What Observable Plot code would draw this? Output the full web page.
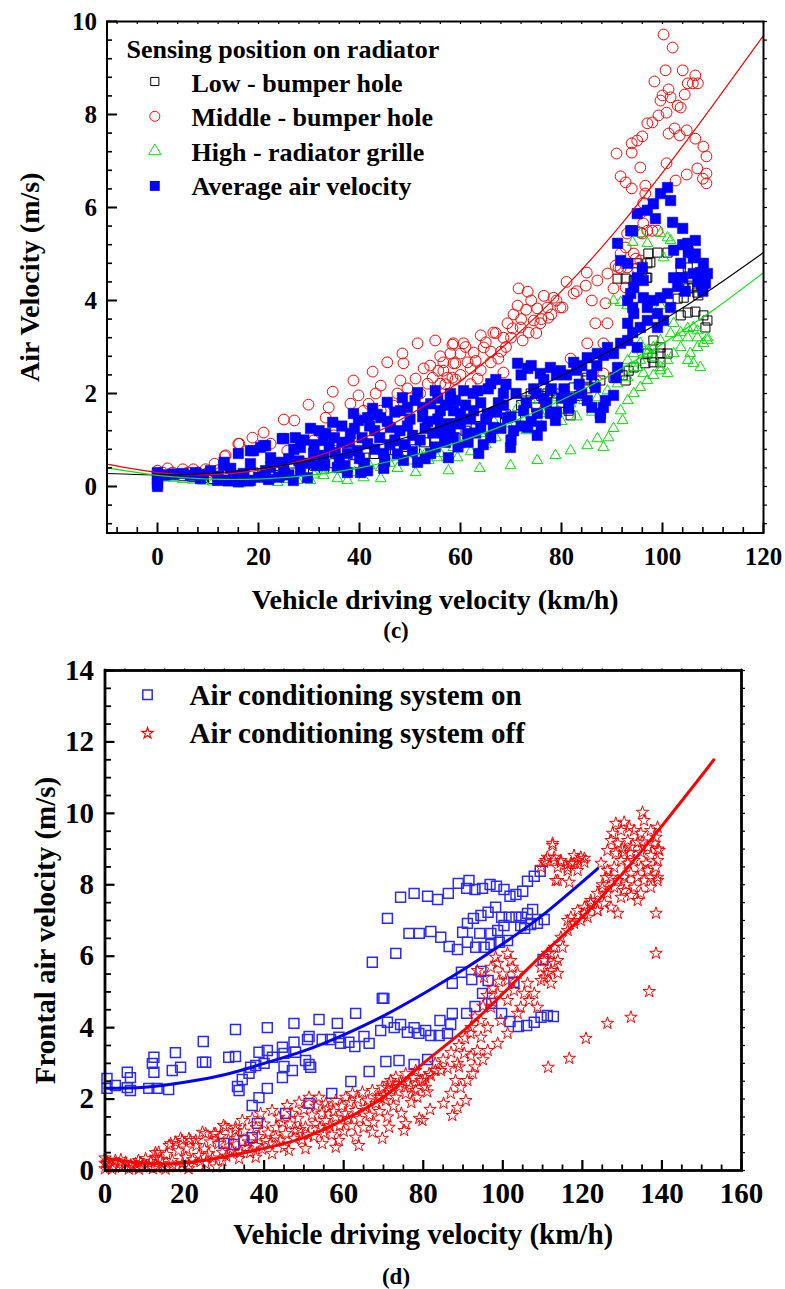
<!DOCTYPE html>
<html>
<head>
<meta charset="utf-8">
<script src="https://cdn.jsdelivr.net/npm/d3@7"></script>
<script src="https://cdn.jsdelivr.net/npm/@observablehq/plot@0.6"></script>
<style>
  html, body { margin: 0; padding: 0; background: #fff; }
  #wrap { position: relative; width: 785px; height: 1289px; background: #fff; overflow: hidden; }
  .panel { position: absolute; left: 0; }
  .tag { position: absolute; left: 0; width: 792px; text-align: center; font-family: 'Liberation Serif', 'Times New Roman', serif; font-weight: bold; font-size: 23px; line-height: 23px; color: #000; }
</style>
</head>
<body>
<div id="wrap">
  <div id="top" class="panel" style="top:0px"></div>
  <div id="bottom" class="panel" style="top:640px"></div>
  <div class="tag" style="top:619px">(c)</div>
  <div class="tag" style="top:1265px">(d)</div>
</div>
<script>
// ---------------- Panel (c) data ----------------
const legendTitleC = "Sensing position on radiator";
const seriesNamesC = ["Low - bumper hole", "Middle - bumper hole", "High - radiator grille", "Average air velocity"];
const xTitleC = "Vehicle driving velocity (km/h)";
const yTitleC = "Air Velocity (m/s)";
const xTickLabelsC = [0, 20, 40, 60, 80, 100, 120];
const yTickLabelsC = [0, 2, 4, 6, 8, 10];

const lowPts = [[0,0.28],[0,0.18],[1,0.22],[3,0.24],[5,0.22],[7,0.2],[9,0.18],[11,0.16],[13,0.14],[15,0.15],[17,0.17],[19,0.3],[21,0.22],[23,0.25],[25,0.4],[27,0.3],[29,0.35],[31,0.45],[33,0.38],[35,0.5],[37,0.55],[39,0.48],[41,0.62],[43,0.7],[45,0.6],[47,0.78],[49,0.85],[51,0.8],[53,0.95],[55,1.0],[57,1.1],[59,1.05],[61,1.2],[63,1.3],[65,1.25],[67,1.45],[69,1.55],[71,1.5],[72,1.75],[73,1.85],[73.9,2.0],[75,1.7],[76,1.95],[77.2,2.0],[77.2,1.89],[77.8,2.06],[79.2,2.0],[80,1.8],[81.4,1.63],[81.8,1.53],[82.4,2.13],[83.5,1.95],[84.8,2.28],[85.1,2.11],[85.1,2.34],[86.5,2.2],[87.7,2.28],[90.3,2.34],[92.1,2.39],[92.7,2.28],[93.3,2.49],[94.3,2.56],[96.6,2.65],[97,2.86],[98,2.77],[98.2,3.14],[98.2,2.67],[99.6,2.99],[99.6,2.86],[99.6,2.67],[101,2.86],[91.1,4.47],[92.7,4.47],[94.3,4.43],[94.7,4.43],[95,4.8],[96,4.65],[96.8,4.49],[97,4.49],[97,4.8],[97.6,4.82],[97.2,5.01],[99,5.03],[101,5.03],[103.6,4.69],[105,4.71],[106.1,4.28],[105.1,4.26],[105.9,4.32],[104.2,4.06],[103,4.04],[106.9,4.17],[107.1,4.11],[105,3.74],[106.5,3.76],[108.1,3.68],[108.9,3.57],[108.5,3.42],[103.6,3.68]];

const midPts = [[0,0.34],[0,0.28],[1,0.3],[2,0.39],[3,0.3],[5,0.37],[6,0.3],[7.1,0.37],[8,0.3],[9.5,0.37],[10,0.3],[11.3,0.49],[12,0.35],[13.3,0.65],[13.5,0.67],[16,0.92],[16.2,0.92],[18.8,1.05],[21,1.16],[22.4,0.92],[25,1.44],[25.7,0.77],[27.1,1.42],[29.9,1.76],[30.9,0.99],[33.3,1.48],[33.9,1.7],[34.7,2.04],[34.9,1.1],[34.9,0.77],[38.2,1.78],[38.8,2.28],[39.8,1.96],[40.8,1.63],[41.8,1.78],[41.8,1.48],[42.6,2.47],[43.2,2.0],[44.2,2.17],[44.2,1.63],[45.5,2.67],[46.7,1.74],[47.5,2.0],[48.1,2.28],[48.5,2.86],[48.7,2.65],[49.5,2.11],[50,1.9],[51.1,2.32],[51.5,3.08],[52,2.0],[52.7,2.54],[53.5,2.21],[54,2.6],[54.5,2.34],[55,3.14],[55.6,2.49],[56,2.21],[56,2.8],[56.6,2.67],[56.6,2.49],[57,2.2],[57.4,2.34],[58,2.86],[58.4,3.05],[58.4,2.34],[58.6,3.08],[58.6,2.65],[59,2.65],[59,2.3],[60,2.86],[60,2.4],[60.6,3.08],[61,3.0],[61.4,2.67],[62,2.54],[62,2.2],[62.6,2.88],[63,2.7],[63.4,2.32],[64,3.25],[64,2.5],[64.6,2.99],[65,3.1],[66,2.67],[66,2.9],[66.5,3.31],[67,3.3],[67.5,2.75],[68,2.9],[68.5,3.2],[68.5,2.45],[69,3.0],[69.3,3.51],[70,3.2],[70.3,3.4],[70.5,3.7],[71.3,3.89],[71.5,4.26],[71.9,3.42],[72,3.6],[72.3,3.14],[73,3.8],[73.3,4.19],[73.5,3.31],[74,4.0],[74.5,3.57],[74.9,1.78],[75,3.3],[75.2,3.83],[75.8,3.51],[76,3.6],[76.5,4.1],[77.2,3.85],[77.4,3.63],[78,3.7],[78.4,4.06],[79,4.0],[79.8,3.85],[80.2,3.85],[81,4.4],[81.8,2.75],[82.4,4.15],[83,4.2],[84.8,4.32],[85,4.6],[85.1,3.08],[86,4.0],[86.7,3.51],[87.1,4.43],[88.3,3.08],[88.3,2.43],[88.7,3.94],[89.1,4.58],[89.1,3.51],[90.3,4.26],[90.7,4.75],[90.9,7.16],[91.3,4.71],[91.7,6.67],[91.7,5.01],[91.7,4.69],[92.7,6.54],[92.7,5.14],[92.7,4.28],[93,5.44],[93,4.71],[93.9,7.38],[93.9,7.18],[93.9,6.41],[94.3,5.01],[94.7,4.9],[95,7.44],[95,4.69],[95.6,6.86],[95.6,5.87],[95.6,5.46],[95.6,4.86],[96,7.53],[96,5.44],[96.2,6.1],[96.2,5.66],[96.6,6.47],[96.6,6.3],[97,7.81],[97,5.5],[98,7.83],[98,5.5],[98.4,8.71],[99,5.5],[99.2,7.98],[99.6,8.3],[100,8.41],[100.2,9.72],[100.6,8.95],[100.8,8.04],[100.8,6.95],[101.2,8.54],[101.2,7.59],[101.6,8.37],[102,9.44],[102.4,7.7],[102.6,6.58],[103,8.19],[103.4,7.55],[103.6,8.15],[104,8.95],[104.4,8.43],[104.8,7.66],[104.8,6.71],[105,8.67],[106,8.67],[106.5,8.84],[106.5,7.48],[106.9,6.84],[107,8.67],[108,6.62],[108.1,7.31],[108.7,7.1],[108.7,6.73],[108.7,6.52]];

const highPts = [[0,0.12],[0,0.05],[1,0.2],[3,0.18],[5,0.15],[7,0.14],[9,0.12],[11,0.1],[12,0.15],[13.9,0.09],[15,0.12],[16.4,0.06],[18,0.1],[20.4,0.19],[22,0.12],[23.8,0.09],[25,0.28],[26,0.15],[27.7,0.13],[28.9,0.49],[30.3,0.13],[31,0.25],[32.7,0.34],[32.9,0.24],[33.3,0.67],[35.6,0.17],[36,0.4],[37.6,0.39],[37.6,0.13],[39,0.3],[40.8,0.19],[42,0.45],[44.2,0.41],[44.2,0.17],[46,0.5],[47.5,0.39],[48.1,0.67],[50,0.55],[51.1,0.3],[51.5,0.77],[53,0.7],[53.7,0.56],[55.4,0.62],[56,0.71],[57.6,0.34],[58.6,0.84],[59.4,0.62],[60,0.9],[61.4,0.99],[62,0.75],[63.8,0.39],[64,1.14],[65,0.9],[66.5,1.42],[67,1.05],[68.5,1.63],[69.3,1.35],[69.9,0.45],[70,1.1],[71.3,1.7],[72.5,1.42],[73,1.2],[73.9,1.85],[75.2,0.56],[75.8,1.57],[76,1.3],[77.2,1.63],[78.8,0.67],[79.2,1.63],[79.2,1.91],[80,1.4],[81.8,0.77],[81.8,1.78],[83,1.5],[84.4,1.85],[85.1,0.88],[86,1.6],[87.1,1.03],[87.1,1.91],[88.3,0.84],[89.1,2.06],[89.3,1.05],[90.3,1.25],[90.3,4.0],[91.1,2.21],[91.7,1.63],[91.7,3.96],[92.1,1.42],[93,3.89],[93.1,1.85],[93.1,2.34],[93.1,2.71],[94.1,5.25],[94.3,2.0],[94.3,2.56],[94.3,2.86],[95,2.56],[95.6,2.13],[95.6,2.71],[95.6,3.08],[95.6,5.44],[96.2,2.43],[97,2.28],[97,2.86],[97,2.92],[97,5.23],[98.2,2.39],[98.2,2.99],[98.2,2.77],[99.6,2.49],[99.6,3.14],[99.6,2.56],[99.6,3.89],[99.6,5.44],[100.2,4.92],[101,2.71],[101,2.43],[101,5.35],[101.6,3.29],[101.6,5.29],[102.2,2.86],[102.2,3.51],[103,3.2],[103.6,2.99],[103.6,3.31],[105,2.71],[105,3.2],[105,3.4],[105.5,2.86],[106.1,2.65],[106.1,3.42],[106.9,3.2],[106.9,3.35],[106.9,2.99],[107.5,2.56],[108.1,3.08],[108.9,3.14],[108.9,3.2]];

const avgPts = [[0,0.3],[0,0.22],[0,0.14],[0,0.06],[0,0.0],[1.5,0.25],[3,0.27],[5,0.28],[6.5,0.24],[7.5,0.3],[8.5,0.17],[9,0.26],[10.5,0.34],[11.9,0.13],[12,0.22],[13.1,0.45],[13.2,0.52],[14,0.12],[14.5,0.39],[15,0.24],[16,0.71],[16,0.1],[17,0.28],[18,0.12],[18.4,0.77],[18.4,0.49],[18.4,0.13],[19,0.77],[20,0.2],[20.4,0.84],[21,0.88],[21.4,0.88],[21.4,0.34],[22,0.15],[22.4,0.62],[22.4,0.41],[24,0.2],[24.4,0.52],[24.7,1.03],[25,1.03],[25,0.34],[26,0.25],[26,0.6],[26.9,0.13],[27,0.8],[27.3,1.05],[28,0.55],[28.3,0.84],[28.3,0.34],[29,1.0],[29.7,0.19],[30,0.5],[30.3,1.25],[30.9,0.71],[31,0.9],[31.5,0.45],[32,1.2],[32.9,0.99],[32.9,0.67],[33,0.45],[33.3,1.14],[34,0.85],[34.7,1.38],[35,1.05],[35.2,0.73],[35.6,0.41],[36,0.6],[36.5,0.95],[36.5,1.3],[37,0.45],[37.6,0.71],[37.6,0.3],[38,0.95],[38.2,1.14],[38.8,1.57],[39,1.25],[39.6,0.77],[39.8,1.42],[40,0.6],[40.2,0.3],[40.5,1.05],[41,0.5],[41.6,1.48],[41.6,0.92],[41.6,0.34],[42,1.3],[42.6,1.68],[43,1.2],[43,0.8],[43.5,1.55],[44,1.05],[44.2,1.48],[44.8,0.71],[44.8,0.39],[45,0.55],[45.5,1.81],[45.5,1.4],[46,0.9],[46.1,1.27],[47,1.0],[47,1.6],[47.5,0.7],[48,1.2],[48.1,1.63],[48.5,1.91],[48.7,0.56],[49,0.9],[49.5,1.3],[49.5,1.7],[50,1.45],[50.5,1.1],[50.5,0.75],[51,1.85],[51.5,2.02],[51.5,0.52],[52,1.0],[52.5,1.5],[52.5,1.7],[53,1.25],[53,0.6],[53.5,1.4],[54.1,1.78],[54.1,0.71],[54.5,1.15],[55,2.06],[55,0.85],[55.5,1.45],[55.5,1.9],[56,1.63],[56,1.3],[56.5,1.15],[57,0.95],[57,1.75],[57.4,1.35],[57.6,0.62],[58,2.0],[58,1.91],[58,1.2],[58.6,1.63],[58.6,1.05],[59,1.85],[59.4,1.35],[59.5,0.85],[60,1.57],[60,1.35],[60.6,2.06],[61,1.75],[61.4,1.14],[61.5,0.95],[62,1.45],[62.5,2.0],[62.6,1.63],[63,1.15],[63.4,2.06],[63.6,0.71],[64,1.27],[64,1.8],[64.5,0.9],[65,1.45],[65.3,1.57],[65.5,2.1],[66,2.21],[66,1.05],[66.5,1.27],[67,1.6],[67,2.3],[67.5,1.8],[68,1.25],[68.5,2.0],[68.5,1.75],[69,2.2],[69.3,1.48],[69.9,0.84],[70,1.5],[70,1.0],[70.5,1.2],[71,2.0],[71.3,2.65],[72,1.3],[72,2.4],[72.5,1.63],[73,1.8],[73.3,2.54],[73.3,1.27],[74,1.4],[74,2.6],[74.5,2.1],[75,2.0],[75.2,1.57],[75.2,1.1],[75.8,2.43],[76,1.3],[76.5,1.9],[76.5,2.3],[77,1.8],[77.8,2.56],[77.8,1.57],[78,2.1],[78.8,1.42],[79,1.6],[79,2.4],[79.8,2.49],[80,1.9],[80.5,2.1],[81,2.4],[81.4,1.68],[82,1.9],[82.4,2.67],[83,2.5],[83.5,2.2],[84,2.0],[84,2.6],[85.1,2.77],[85.1,1.85],[86,2.4],[86,1.7],[86.7,2.13],[87,2.6],[87.1,2.86],[87.7,1.57],[87.7,1.48],[88.3,1.7],[88.3,2.82],[88.7,1.85],[89.1,2.99],[90.3,1.96],[90.3,2.86],[90.7,2.34],[91.1,2.56],[91.1,5.23],[91.7,3.08],[91.7,4.86],[93.1,3.14],[93.1,3.51],[93.1,4.0],[93.1,4.8],[93.7,4.15],[93.7,5.5],[94.1,3.31],[94.1,3.85],[94.1,5.5],[94.3,3.72],[94.3,4.28],[95,4.49],[95,5.87],[95,2.99],[95.6,3.42],[96,4.71],[96.2,4.43],[96.2,4.06],[97,3.85],[97,3.57],[97,5.94],[98.2,4.0],[98.2,6.08],[98.6,5.76],[99,3.72],[99,3.42],[99.6,4.06],[99.6,6.3],[100.2,3.57],[101,4.15],[101,6.43],[101.6,3.85],[101.6,6.15],[102,5.68],[102.2,4.49],[102.2,5.08],[103,4.3],[103.6,4.8],[104,4.49],[104,5.2],[104,5.55],[104.5,4.2],[105,5.23],[105.1,5.03],[106.1,4.92],[106.1,4.58],[106.5,5.29],[106.5,5.0],[107,4.4],[107.5,4.6],[108,4.2],[108.1,4.8],[108.5,4.37],[108.9,4.58]];

const fitXC = [-10, 0, 10, 20, 30, 40, 50, 60, 70, 80, 90, 100, 110, 120];
const lowFitY = [0.28, 0.25, 0.28, 0.38, 0.55, 0.78, 1.08, 1.45, 1.88, 2.38, 2.94, 3.57, 4.27, 5.03];
const midFitY = [0.48, 0.3, 0.25, 0.35, 0.6, 1.0, 1.55, 2.27, 3.15, 4.2, 5.4, 6.75, 8.2, 9.7];
const highFitY = [0.4, 0.24, 0.16, 0.16, 0.24, 0.4, 0.65, 0.97, 1.38, 1.86, 2.42, 3.07, 3.79, 4.6];

// ---------------- Panel (d) data ----------------
const seriesNamesD = ["Air conditioning system on", "Air conditioning system off"];
const xTitleD = "Vehicle driving velocity (km/h)";
const yTitleD = "Frontal air velocity (m/s)";
const xTickLabelsD = [0, 20, 40, 60, 80, 100, 120, 140, 160];
const yTickLabelsD = [0, 2, 4, 6, 8, 10, 12, 14];

const onPts = [[0.5,2.58],[0.5,2.3],[2.6,2.38],[5.6,2.75],[6.4,2.6],[5.6,2.32],[6.4,2.24],[11,2.3],[13.1,2.3],[16,2.27],[11.9,3.0],[12.3,3.17],[12.3,2.75],[16.9,2.8],[17.7,3.3],[19,2.89],[24.5,3.03],[25.3,3.03],[24.7,3.61],[31.1,3.17],[32.8,3.19],[32.8,3.95],[33.3,2.35],[33.7,2.24],[34.5,2.55],[36.2,2.72],[36.6,2.89],[37,1.82],[38.7,2.04],[40.8,2.3],[37.9,2.94],[40,3.0],[38.7,3.31],[40.8,3.36],[40.8,4.0],[42.1,3.17],[44.6,3.45],[45,3.28],[45,2.91],[44.6,2.6],[47.1,2.8],[47.5,3.59],[47.5,4.12],[47.9,3.31],[50.4,3.08],[51.3,2.97],[51.7,2.89],[50.9,3.67],[51.3,3.75],[53.8,4.23],[54.6,3.67],[56.7,3.67],[58.8,3.73],[59.2,3.56],[61.3,3.59],[62.8,3.47],[58.4,4.12],[63,4.4],[65.1,3.75],[66.4,3.56],[61.8,2.49],[66.4,2.77],[67.2,5.83],[69.3,3.92],[71,4.15],[72.7,4.0],[74.3,4.09],[76,3.87],[77.7,4.0],[78.9,3.84],[80.6,3.92],[81.9,3.78],[69.7,4.82],[71,7.06],[73.1,6.08],[74.3,7.65],[77.7,7.76],[81.1,7.68],[83.6,7.59],[76.4,6.64],[79,6.64],[81.9,6.69],[70.6,3.05],[73.9,3.08],[77.7,2.97],[81.1,3.11],[45.4,1.6],[38.3,1.32],[37,0.92],[34.9,0.84],[32.4,0.73],[29.9,0.76],[51.3,1.88],[57,2.16],[86.3,7.76],[88.8,8.04],[91.5,8.12],[90.9,7.9],[93,7.87],[94.9,7.9],[96.8,8.01],[98.4,7.96],[100.3,7.87],[101.8,7.68],[103.3,7.73],[105,7.82],[106.2,8.1],[107.9,8.24],[109.4,8.38],[84.4,6.53],[86.5,6.27],[88.6,6.19],[89.9,6.67],[91.1,6.92],[92.6,7.06],[94.5,7.14],[96.3,7.23],[98.2,7.37],[99.7,7.09],[101.6,7.09],[103.3,7.09],[104.7,7.09],[106.2,7.2],[107.5,7.31],[110.4,7.03],[108.7,6.92],[107,6.89],[105.5,6.78],[104.5,6.86],[100.3,6.86],[98.7,6.72],[97,6.64],[94.2,6.64],[93.2,6.25],[95.3,6.25],[97,6.33],[99.1,6.39],[101.2,6.44],[91.1,6.39],[89.6,5.55],[87.3,5.24],[92.2,5.35],[94.5,5.57],[96.3,5.32],[94.9,4.96],[97.2,4.68],[102.8,5.27],[110.1,5.91],[70.1,4.82],[84,3.78],[86.1,3.84],[86.9,4.09],[84.2,4.2],[87.3,4.4],[90.9,4.4],[93,4.59],[99.7,4.4],[101.8,4.17],[103.9,4.03],[106,4.06],[107.9,4.15],[109.6,4.29],[111.2,4.34],[112.7,4.31]];

const offPts = [[0,0.35],[0,0.2],[0,0.05],[0.5,0.23],[1,0.14],[1.8,0.04],[2,0.1],[2.6,0.28],[3.5,0.18],[4,0.3],[4.3,0.09],[5.2,0.23],[6,0.04],[6.5,0.15],[7,0.08],[7.7,0.19],[8.4,0.28],[8.5,0.04],[9,0.22],[9.5,0.1],[10.2,0.33],[11,0.14],[11.5,0.25],[12,0.05],[12.7,0.37],[12.7,0.5],[13,0.08],[13.5,0.51],[14,0.3],[14.4,0.19],[15.2,0.04],[15.5,0.45],[16.1,0.7],[16.5,0.75],[16.9,0.28],[17,0.12],[17.7,0.79],[18,0.1],[18.5,0.55],[19,0.9],[19.4,0.84],[19.5,0.2],[20.3,0.37],[20.5,0.6],[21,0.05],[21.1,0.89],[21.1,0.14],[21.5,0.84],[22,0.3],[22.8,0.84],[23,0.7],[23.6,0.42],[24,0.25],[24.5,1.07],[25,0.6],[25.3,1.03],[25.3,0.19],[26.1,0.47],[26.5,0.8],[27,0.35],[27.4,1.03],[27.8,1.03],[28,0.1],[28.5,0.75],[29,0.95],[29.5,0.51],[29.5,0.28],[29.8,1.26],[30.3,1.21],[30.5,0.4],[31,0.85],[31.5,0.6],[32,0.56],[32.8,1.21],[32.8,1.12],[33,0.9],[33.7,0.33],[34,0.5],[34.5,1.4],[35,1.1],[35.3,0.65],[36,0.8],[36.5,0.5],[37,1.45],[37.9,0.7],[37.9,0.37],[38,1.2],[38.5,0.95],[39.1,1.59],[39.5,0.6],[40,1.3],[40.4,0.84],[41,1.05],[41.5,0.75],[42,1.68],[42,0.47],[42.9,0.93],[43,1.2],[43.7,1.49],[44,0.85],[44.5,1.35],[45,0.65],[45.4,1.03],[45.8,1.82],[46.2,0.56],[46.5,1.3],[47,1.6],[47.5,0.9],[47.9,1.12],[48.5,1.45],[48.8,1.91],[49,1.15],[49.5,0.85],[50,1.7],[50.4,1.21],[50.4,0.61],[51,1.0],[51.3,2.05],[52,1.55],[52.5,0.95],[52.9,1.31],[53,1.8],[53.8,2.05],[54,1.2],[54.5,1.6],[54.6,0.75],[55,1.05],[55.5,1.87],[55.5,1.4],[56,1.75],[56.5,1.25],[57,1.0],[57.5,1.65],[58,1.96],[58,1.49],[58,0.65],[58.8,0.84],[59,1.25],[59.5,1.8],[60,1.1],[60.5,2.05],[60.5,1.59],[61,1.45],[61.5,1.9],[62,1.25],[62.2,2.15],[63,1.68],[63,0.93],[63.5,2.0],[63.8,0.7],[64,1.45],[64.7,2.19],[65,1.2],[65.5,1.77],[66,1.95],[66.5,1.55],[67.2,2.24],[67.2,1.07],[67.5,1.35],[68.1,1.87],[68.5,2.05],[69,1.65],[69.3,2.04],[69.7,2.33],[69.7,0.9],[70,2.1],[70.6,1.96],[71,1.5],[71,2.32],[71.4,2.43],[71.4,1.21],[71.8,2.52],[72,2.25],[72.5,1.8],[73.1,2.61],[73.1,2.05],[74,2.35],[74.3,2.44],[74.5,1.6],[75.2,1.12],[75.6,2.71],[75.6,2.15],[75.6,1.31],[76.5,2.45],[76.9,2.32],[77,1.9],[77.5,2.6],[78.1,2.8],[78.1,2.24],[78.5,2.05],[79,1.46],[79.4,2.52],[79.8,2.52],[79.8,1.4],[80.5,2.6],[80.6,2.33],[81,2.2],[81.5,2.71],[81.7,1.71],[81.9,2.66],[83,3.0],[83.1,2.8],[84.4,2.8],[85,3.1],[85.1,1.88],[86.1,2.86],[86.9,2.16],[87,3.3],[87.3,1.54],[88.1,2.52],[88.6,3.0],[88.6,1.76],[89,3.5],[89,2.9],[89.4,2.32],[90.3,3.28],[90.5,3.7],[90.7,1.96],[91.1,2.52],[91.9,3.84],[92,4.0],[92,3.2],[92.4,2.72],[93,4.3],[93,2.9],[93.6,3.36],[93.6,5.6],[94.5,3.73],[94.5,4.2],[95,4.6],[95,3.1],[95.3,5.41],[96,4.9],[96.2,3.36],[96.2,4.0],[97,4.57],[97,5.69],[97.5,5.1],[98.2,5.97],[98.7,3.56],[98.7,4.96],[98.7,5.8],[99,5.3],[99.5,4.2],[100,5.5],[101.2,3.84],[101.2,4.76],[101.2,5.32],[101.2,6.08],[102,5.88],[102.4,5.69],[102.8,5.04],[103.7,4.4],[103.7,5.52],[104.5,4.57],[105.4,4.96],[106.2,5.24],[106.6,4.76],[107.9,4.96],[108.7,4.57],[109.6,5.32],[109.6,5.69],[110.4,5.41],[110.4,5.88],[111.2,6.08],[111.2,5.52],[112.1,5.6],[112.1,6.08],[112.1,5.24],[112.9,6.25],[112.9,5.8],[113.8,5.88],[113.8,5.52],[114.6,6.53],[115,6.25],[116.3,6.72],[116.3,7.0],[117.1,7.09],[117.9,6.92],[118.8,7.28],[119.6,7.0],[120.5,7.37],[120.5,7.2],[121.3,7.09],[122.1,7.56],[122.1,7.48],[123.8,7.76],[123.8,7.28],[109.6,8.49],[110.4,8.63],[110.8,8.68],[111.2,8.77],[112.5,9.1],[112.5,9.16],[112.9,8.68],[112.9,8.77],[113.3,8.12],[113.8,8.49],[113.8,8.12],[114.6,8.68],[114.6,8.63],[116.3,8.49],[116.3,8.4],[116.7,8.07],[117.1,8.6],[117.9,8.6],[117.9,8.82],[118.8,8.4],[118.8,8.68],[119.6,8.77],[120.5,8.63],[120.5,8.74],[135.1,10.03],[135.5,9.8],[128.4,9.72],[130.5,9.75],[131.8,9.61],[127.6,9.44],[129.7,9.52],[133,9.52],[134.7,9.44],[137.2,9.52],[138.9,9.61],[138.5,9.33],[127.2,9.24],[128.9,9.16],[131.4,9.24],[133.9,9.19],[136.4,9.05],[138.1,9.16],[139.3,8.96],[126.3,8.96],[128.4,8.88],[130.5,8.91],[132.2,9.05],[134.7,8.91],[137.2,8.82],[138.9,8.68],[124.7,8.6],[126.3,8.4],[128,8.49],[129.7,8.68],[131.4,8.6],[133,8.68],[134.7,8.49],[136.4,8.4],[138.5,8.49],[127.2,8.21],[128.9,8.12],[130.5,8.21],[132.2,8.32],[133.9,8.21],[135.5,8.12],[137.2,8.21],[138.9,8.21],[128,7.93],[130.5,7.84],[133,7.93],[134.7,7.76],[137.2,7.93],[138.9,8.12],[129.7,7.65],[132.2,7.7],[133.9,7.56],[128.9,7.2],[138.5,7.2],[126.3,7.76],[125.5,7.48],[127.2,7.37],[123.8,7.28],[122.1,7.48],[125,8.0],[126,8.2],[131,8.0],[136,8.6],[139,9.0],[130,9.0],[132,8.9],[135,9.2],[125,7.9],[138.5,6.08],[136.8,5.01],[132.2,4.29],[126.3,4.12],[120.9,3.7],[116.7,3.14],[111.4,2.89]];

const onFitX = [0, 10, 20, 30, 40, 50, 60, 70, 80, 90, 100, 110, 123.8];
const onFitY = [2.3, 2.33, 2.47, 2.68, 3.0, 3.35, 3.8, 4.33, 4.95, 5.62, 6.35, 7.15, 8.45];
const offFitX = [0, 10, 20, 30, 40, 50, 60, 70, 80, 90, 100, 110, 120, 130, 140, 150, 153];
const offFitY = [0.35, 0.2, 0.22, 0.38, 0.62, 0.92, 1.42, 2.05, 3.0, 3.9, 4.95, 6.05, 7.1, 8.3, 9.65, 11.06, 11.5];

// ---------------- helpers ----------------
const X = d => d[0], Y = d => d[1];
const zip = (xs, ys) => xs.map((x, i) => [x, ys[i]]);
const FONT = "'Liberation Serif', 'Times New Roman', Times, serif";

// ---------------- Panel (c) ----------------
{
  const W = 785, H = 612;
  const m = {top: 21, right: 22, bottom: 79.5, left: 106.5};
  const fw = W - m.left - m.right, fh = H - m.top - m.bottom;
  const xMajor = xTickLabelsC;
  const xMinor = d3.range(-8, 120, 4).filter(v => v % 20 !== 0);
  const yMajor = yTickLabelsC;
  const yMinor = d3.range(-0.8, 10, 0.4).map(v => +v.toFixed(1)).filter(v => Math.abs(v % 2) > 1e-6);
  const legendSym = [
    {symbol: "square", r: 4.6, stroke: "#000", fill: "none"},
    {symbol: "circle", r: 5, stroke: "#ff0000", fill: "none"},
    {symbol: "triangle", r: 4.6, stroke: "#00e600", fill: "none"},
    {symbol: "square", r: 5.6, stroke: "none", fill: "#0000ff"}
  ];
  const chart = Plot.plot({
    width: W, height: H,
    marginTop: m.top, marginRight: m.right, marginBottom: m.bottom, marginLeft: m.left,
    x: {domain: [-10, 120]},
    y: {domain: [-1, 10]},
    style: {fontFamily: FONT, fontWeight: "bold", fontSize: "25px", background: "#fff", overflow: "visible", color: "#000"},
    marks: [
      Plot.dot(lowPts, {x: X, y: Y, symbol: "square", r: 5.1, stroke: "#000", strokeWidth: 1, fill: "none"}),
      Plot.dot(midPts, {x: X, y: Y, symbol: "circle", r: 5.4, stroke: "#ff0000", strokeWidth: 1, fill: "none"}),
      Plot.dot(highPts, {x: X, y: Y, symbol: "triangle", r: 4, stroke: "#00e600", strokeWidth: 1, fill: "none"}),
      Plot.dot(avgPts, {x: X, y: Y, symbol: "square", r: 5.9, fill: "#0000ff", stroke: "#0000ff", strokeWidth: 0.5}),
      Plot.line(zip(fitXC, midFitY), {x: X, y: Y, stroke: "#ff0000", strokeWidth: 1.2, curve: "natural"}),
      Plot.line(zip(fitXC, lowFitY), {x: X, y: Y, stroke: "#000", strokeWidth: 1.2, curve: "natural"}),
      Plot.line(zip(fitXC, highFitY), {x: X, y: Y, stroke: "#00e600", strokeWidth: 1.2, curve: "natural"}),
      // ticks
      Plot.ruleX(xMajor, {insetTop: fh - 10, stroke: "#000", strokeWidth: 2}),
      Plot.ruleX(xMinor, {insetTop: fh - 5.5, stroke: "#000", strokeWidth: 1.6}),
      Plot.ruleX(xMajor.concat(xMinor), {insetBottom: fh - 3, stroke: "#000", strokeWidth: 1.2}),
      Plot.ruleY(yMajor, {insetRight: fw - 10.5, stroke: "#000", strokeWidth: 2}),
      Plot.ruleY(yMinor, {insetRight: fw - 5.5, stroke: "#000", strokeWidth: 1.6}),
      Plot.axisY(yMajor.concat(yMinor), {anchor: "right", tickSize: 3, tickFormat: () => "", label: null, strokeWidth: 1.2}),
      Plot.frame({stroke: "#000", strokeWidth: 2}),
      Plot.axisX(xMajor, {tickSize: 0, tickPadding: 14.3, fontSize: 25, label: null, tickFormat: d => String(d)}),
      Plot.axisY(yMajor, {tickSize: 0, tickPadding: 10, fontSize: 25, label: null, tickFormat: d => String(d)}),
      Plot.text([xTitleC], {text: d => d, frameAnchor: "bottom", textAnchor: "middle", dy: 75.5, lineAnchor: "bottom", fontSize: 28, fontWeight: "bold"}),
      Plot.text([yTitleC], {text: d => d, frameAnchor: "left", textAnchor: "middle", dx: -76.5, rotate: -90, lineAnchor: "middle", fontSize: 28, fontWeight: "bold"}),
      // legend
      Plot.text([legendTitleC], {text: d => d, frameAnchor: "top-left", dx: 19.5, dy: 36, textAnchor: "start", lineAnchor: "bottom", fontSize: 26, fontWeight: "bold"}),
      ...legendSym.map((s, i) => Plot.dot([0], {frameAnchor: "top-left", dx: 47.8, dy: 60 + i * 34.8, symbol: s.symbol, r: s.r, stroke: s.stroke, strokeWidth: 1, fill: s.fill})),
      ...seriesNamesC.map((name, i) => Plot.text([name], {text: d => d, frameAnchor: "top-left", dx: 84.5, dy: 70 + i * 34.5, textAnchor: "start", lineAnchor: "bottom", fontSize: 26, fontWeight: "bold"}))
    ]
  });
  document.getElementById("top").appendChild(chart);
}

// ---------------- Panel (d) ----------------
{
  const W = 785, H = 620;
  const m = {top: 30, right: 44, bottom: 90, left: 104.5};
  const fw = W - m.left - m.right, fh = H - m.top - m.bottom;
  const xMajor = xTickLabelsD;
  const xMinor = d3.range(5, 160, 5).filter(v => v % 20 !== 0);
  const yMajor = yTickLabelsD;
  const yMinor = d3.range(0.5, 14, 0.5).filter(v => v % 2 !== 0);
  const chart = Plot.plot({
    width: W, height: H,
    marginTop: m.top, marginRight: m.right, marginBottom: m.bottom, marginLeft: m.left,
    x: {domain: [0, 160]},
    y: {domain: [0, 14]},
    style: {fontFamily: FONT, fontWeight: "bold", fontSize: "29px", background: "#fff", overflow: "visible", color: "#000"},
    marks: [
      Plot.dot(onPts, {x: X, y: Y, symbol: "square", r: 5.6, stroke: "#2a2aff", strokeWidth: 1.5, fill: "none"}),
      Plot.dot(offPts, {x: X, y: Y, symbol: "star", r: 3.9, stroke: "#ff0000", strokeWidth: 1, fill: "none"}),
      Plot.line(zip(onFitX, onFitY), {x: X, y: Y, stroke: "#0000ff", strokeWidth: 3, curve: "natural"}),
      Plot.line(zip(offFitX, offFitY), {x: X, y: Y, stroke: "#ff0000", strokeWidth: 3, curve: "natural"}),
      Plot.ruleX(xMajor, {insetTop: fh - 10, stroke: "#000", strokeWidth: 2.2}),
      Plot.ruleX(xMinor, {insetTop: fh - 5.5, stroke: "#000", strokeWidth: 1.8}),
      Plot.ruleY(yMajor, {insetRight: fw - 10, stroke: "#000", strokeWidth: 2.2}),
      Plot.ruleY(yMinor, {insetRight: fw - 6.5, stroke: "#000", strokeWidth: 1.8}),
      Plot.axisX(xMajor.concat(xMinor), {anchor: "top", tickSize: 2.5, tickFormat: () => "", label: null, strokeWidth: 1.2}),
      Plot.axisY(yMajor.concat(yMinor), {anchor: "right", tickSize: 3, tickFormat: () => "", label: null, strokeWidth: 1.2}),
      Plot.frame({stroke: "#000", strokeWidth: 2.8}),
      Plot.axisX(xMajor, {tickSize: 0, tickPadding: 11.6, fontSize: 29, label: null, tickFormat: d => String(d)}),
      Plot.axisY(yMajor, {tickSize: 0, tickPadding: 11, fontSize: 29, label: null, tickFormat: d => String(d)}),
      Plot.text([xTitleD], {text: d => d, frameAnchor: "bottom", textAnchor: "middle", dy: 73, lineAnchor: "bottom", fontSize: 29, fontWeight: "bold"}),
      Plot.text([yTitleD], {text: d => d, frameAnchor: "left", textAnchor: "middle", dx: -59.5, dy: 10, rotate: -90, lineAnchor: "middle", fontSize: 29, fontWeight: "bold"}),
      // legend
      Plot.dot([0], {frameAnchor: "top-left", dx: 42.5, dy: 24.3, symbol: "square", r: 5.3, stroke: "#2a2aff", strokeWidth: 1.5, fill: "none"}),
      Plot.dot([0], {frameAnchor: "top-left", dx: 42.5, dy: 62.7, symbol: "star", r: 3.5, stroke: "#ff0000", strokeWidth: 1.2, fill: "none"}),
      ...seriesNamesD.map((name, i) => Plot.text([name], {text: d => d, frameAnchor: "top-left", dx: 84.5, dy: 34 + i * 38.5, textAnchor: "start", lineAnchor: "bottom", fontSize: 29, fontWeight: "bold"}))
    ]
  });
  document.getElementById("bottom").appendChild(chart);
}
</script>
</body>
</html>
